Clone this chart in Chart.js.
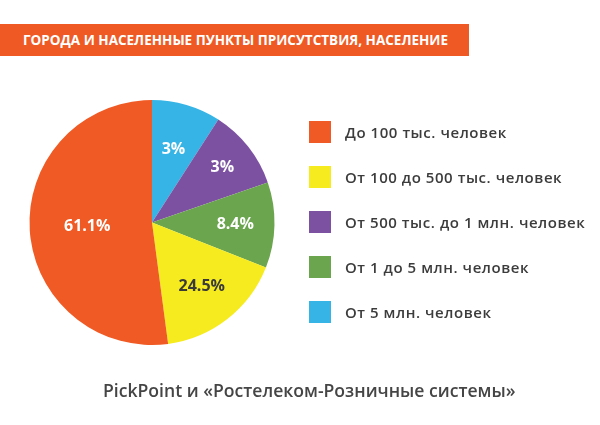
<!DOCTYPE html>
<html lang="ru">
<head>
  <meta charset="UTF-8">
  <title>Города и населенные пункты присутствия</title>
  <script src="https://cdn.jsdelivr.net/npm/chart.js"></script>
  <style>
    body {
      margin: 0;
      background: #fff;
      font-family: "Open Sans", sans-serif;
    }
    .wrap {
      position: relative;
      width: 600px;
      height: 425px;
    }
    .title-bar {
      position: absolute;
      left: 0;
      top: 24px;
      width: 446px;
      height: 32px;
      padding-left: 23px;
      background: #ef5a24;
      color: #fff;
      font-weight: 700;
      font-size: 13.5px;
      line-height: 32px;
      white-space: nowrap;
    }
    .source {
      position: absolute;
      left: 103px;
      top: 378px;
      color: #454545;
      font-weight: 600;
      font-size: 17.6px;
      white-space: nowrap;
    }
    canvas {
      position: absolute;
      left: 0;
      top: 0;
    }
    #legend {
      position: absolute;
      left: 309px;
      top: 121px;
    }
    .legend-row {
      display: flex;
      align-items: center;
      height: 22px;
      margin-bottom: 23px;
      color: #3c3c3c;
      font-weight: 600;
      font-size: 15px;
      letter-spacing: 0.55px;
      white-space: nowrap;
    }
    .legend-box {
      width: 22px;
      height: 22px;
      margin-right: 14px;
    }
  </style>
</head>
<body>

<div class="wrap">
  <canvas id="pie" width="600" height="425"></canvas>
  <div class="title-bar">ГОРОДА И НАСЕЛЕННЫЕ ПУНКТЫ ПРИСУТСТВИЯ, НАСЕЛЕНИЕ</div>
  <div id="legend"></div>
  <div class="source">PickPoint и «Ростелеком-Розничные системы»</div>
</div>

<script>
  // slices in drawing order, clockwise from 12 o'clock
  const sliceLabels = [
    "От 5 млн. человек",
    "От 500 тыс. до 1 млн. человек",
    "От 1 до 5 млн. человек",
    "От 100 до 500 тыс. человек",
    "До 100 тыс. человек"
  ];
  // percentages printed on the slices
  const shownPct = [3, 3, 8.4, 24.5, 61.1];
  // share of the circle each slice actually takes in the picture
  const drawnShare = [9.1, 10.6, 11.3, 16.9, 52.1];
  const sliceColors = ["#36b4e6", "#7d51a1", "#6ba54e", "#f6eb1f", "#f05a24"];
  // legend lists the slices in this order
  const legendOrder = [4, 3, 1, 2, 0];

  const labelColors = ["#fff", "#fff", "#fff", "#3a3a3a", "#fff"];
  const labelDist = [0.62, 0.73, 0.68, 0.66, 0.53];

  const sliceText = {
    id: "sliceText",
    afterDatasetsDraw(chart) {
      const ctx = chart.ctx;
      const arcs = chart.getDatasetMeta(0).data;
      ctx.save();
      ctx.font = "700 16px 'Open Sans', sans-serif";
      ctx.textAlign = "center";
      ctx.textBaseline = "middle";
      arcs.forEach((arc, i) => {
        const p = arc.getProps(["x", "y", "startAngle", "endAngle", "outerRadius"], true);
        const mid = (p.startAngle + p.endAngle) / 2;
        const r = p.outerRadius * labelDist[i];
        ctx.fillStyle = labelColors[i];
        ctx.fillText(shownPct[i] + "%", p.x + Math.cos(mid) * r, p.y + Math.sin(mid) * r);
      });
      ctx.restore();
    }
  };

  const chart = new Chart(document.getElementById("pie"), {
    type: "pie",
    data: {
      labels: sliceLabels,
      datasets: [{
        data: drawnShare,
        backgroundColor: sliceColors,
        borderWidth: 0
      }]
    },
    options: {
      responsive: false,
      animation: false,
      layout: {
        padding: { left: 29.5, top: 100, bottom: 80, right: 325.5 }
      },
      plugins: {
        tooltip: { enabled: false },
        legend: { display: false }
      }
    },
    plugins: [sliceText]
  });

  // legend drawn as html, from the same arrays
  const legendEl = document.getElementById("legend");
  legendOrder.forEach(i => {
    const row = document.createElement("div");
    row.className = "legend-row";
    const box = document.createElement("span");
    box.className = "legend-box";
    box.style.background = chart.data.datasets[0].backgroundColor[i];
    row.appendChild(box);
    row.appendChild(document.createTextNode(chart.data.labels[i]));
    legendEl.appendChild(row);
  });
</script>

</body>
</html>
